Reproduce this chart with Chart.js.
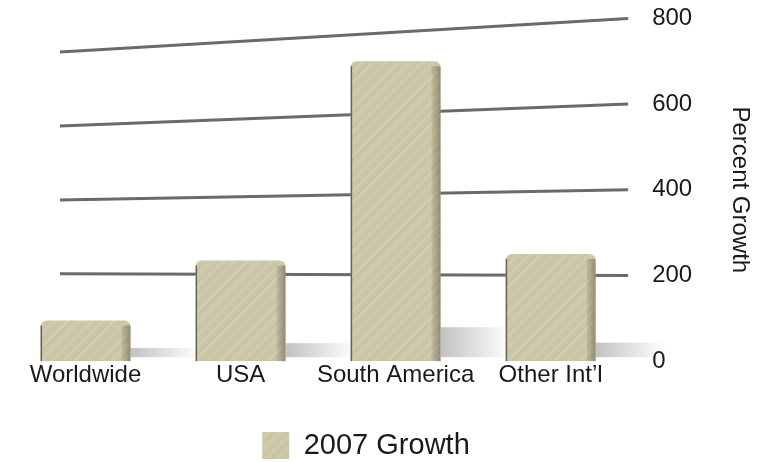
<!DOCTYPE html>
<html>
<head>
<meta charset="utf-8">
<script src="https://cdn.jsdelivr.net/npm/chart.js@4.4.1/dist/chart.umd.min.js"></script>
<style>
    html, body { margin: 0; padding: 0; background: #fff; }
</style>
</head>
<body>
<canvas id="growthChart" width="764" height="462"></canvas>
<script>
// data //
const regions = ['Worldwide', 'USA', 'South America', 'Other Int\u2019l'];
const growth2007 = [95, 235, 700, 250];
const yTicks = [0, 200, 400, 600, 800];

// stone-like texture for the bars //
function stonePattern() {
    const c = document.createElement('canvas');
    c.width = 60;
    c.height = 60;
    const g = c.getContext('2d');
    g.fillStyle = '#cdc7aa';
    g.fillRect(0, 0, 60, 60);
    g.lineWidth = 1;
    const steps = [0, 4, 11, 15, 22, 29, 33, 41, 47, 53];
    steps.forEach((s, k) => {
        g.strokeStyle = k % 2 ? 'rgba(255,252,235,0.22)' : 'rgba(140,132,104,0.12)';
        for (const off of [-60, 0, 60]) {
            g.beginPath();
            g.moveTo(s + off, 60);
            g.lineTo(s + off + 60, 0);
            g.stroke();
        }
    });
    return g.createPattern(c, 'repeat');
}

// slanted grid lines, floor shadows and side faces //
const fakeDepth = {
    id: 'fakeDepth',
    afterLayout(chart) {
        // move the legend a bit left and down
        const lg = chart.legend;
        lg.left -= 16; lg.right -= 16;
        lg.top += 31; lg.bottom += 31;
    },
    beforeDatasetsDraw(chart) {
        const { ctx, chartArea, scales: { y } } = chart;
        const pivot = y.getPixelForValue(228);
        ctx.save();
        ctx.strokeStyle = '#6a6a6a';
        ctx.lineWidth = 3;
        y.ticks.forEach(t => {
            if (t.value === 0) return;
            const yr = y.getPixelForValue(t.value);
            const yl = pivot + (yr - pivot) * 0.863;
            ctx.beginPath();
            ctx.moveTo(chartArea.left + 52, yl);
            ctx.lineTo(chartArea.right, yr);
            ctx.stroke();
        });
        chart.getDatasetMeta(0).data.forEach(bar => {
            const right = bar.x + bar.width / 2;
            const h = Math.min(30, (bar.base - bar.y) * 0.08 + 6);
            const g = ctx.createLinearGradient(right, 0, right + 70, 0);
            g.addColorStop(0, 'rgba(120,120,120,0.45)');
            g.addColorStop(1, 'rgba(120,120,120,0)');
            ctx.fillStyle = g;
            ctx.fillRect(right, bar.base - h - 4, 70, h);
        });
        ctx.restore();
    },
    afterDatasetsDraw(chart) {
        const { ctx } = chart;
        ctx.save();
        chart.getDatasetMeta(0).data.forEach(bar => {
            const left = bar.x - bar.width / 2;
            const right = bar.x + bar.width / 2;
            const g = ctx.createLinearGradient(right - 9, 0, right, 0);
            g.addColorStop(0, 'rgba(90,84,60,0.12)');
            g.addColorStop(1, 'rgba(70,64,45,0.45)');
            ctx.fillStyle = g;
            ctx.fillRect(right - 9, bar.y + 5, 9, bar.base - bar.y - 5);
            ctx.fillStyle = 'rgba(50,46,34,0.65)';
            ctx.fillRect(left, bar.y + 5, 1.5, bar.base - bar.y - 5);
        });
        ctx.restore();
    }
};

const ctx = document.getElementById('growthChart').getContext('2d');
const growthChart = new Chart(ctx, {
    type: 'bar',
    data: {
        labels: regions,
        datasets: [{
            label: '2007 Growth',
            data: growth2007,
            backgroundColor: stonePattern(),
            borderWidth: 0,
            borderRadius: { topLeft: 6, topRight: 6 },
            borderSkipped: 'bottom',
            barPercentage: 0.58,
            categoryPercentage: 1
        }]
    },
    options: {
        responsive: false,
        animation: false,
        layout: {
            padding: { left: 8, right: 8, top: 0, bottom: 23 }
        },
        scales: {
            x: {
                grid: { display: false, drawTicks: false },
                border: { display: false },
                ticks: {
                    color: '#1a1a1a',
                    padding: 0,
                    maxRotation: 0,
                    autoSkip: false,
                    font: { family: 'Liberation Sans, Arial, sans-serif', size: 24 }
                }
            },
            y: {
                position: 'right',
                min: 0,
                max: 800,
                afterBuildTicks: axis => {
                    axis.ticks = yTicks.map(v => ({ value: v }));
                },
                grid: { display: false, drawTicks: true, tickLength: 20 },
                border: { display: false },
                ticks: {
                    color: '#1a1a1a',
                    padding: 4,
                    font: { family: 'Liberation Sans, Arial, sans-serif', size: 24 }
                },
                title: {
                    display: true,
                    text: 'Percent Growth',
                    color: '#1a1a1a',
                    padding: { top: 2, bottom: 29 },
                    font: { family: 'Liberation Sans, Arial, sans-serif', size: 24 }
                }
            }
        },
        plugins: {
            legend: {
                position: 'bottom',
                labels: {
                    color: '#1a1a1a',
                    boxWidth: 27,
                    boxHeight: 27,
                    padding: 10,
                    font: { family: 'Liberation Sans, Arial, sans-serif', size: 29 }
                }
            },
            tooltip: { enabled: false }
        }
    },
    plugins: [fakeDepth]
});
</script>
</body>
</html>
